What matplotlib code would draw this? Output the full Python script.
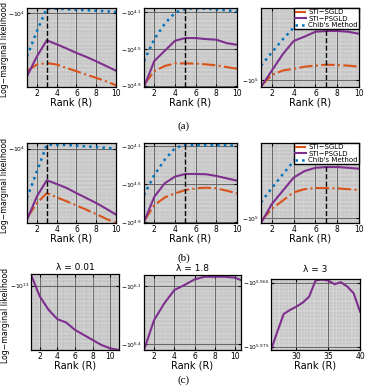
import matplotlib.pyplot as plt
import numpy as np
from matplotlib.ticker import FixedLocator, MultipleLocator

# all curves are stored as log10(-log marginal likelihood)
rank = [1, 2, 3, 4, 5, 6, 7, 8, 9, 10]

# (a)
a1_sgld = [4.236, 4.209, 4.203, 4.209, 4.223, 4.236, 4.250, 4.263, 4.277, 4.293]
a1_psgld = [4.257, 4.176, 4.111, 4.127, 4.144, 4.162, 4.178, 4.196, 4.215, 4.234]
a1_chib = [4.176, 4.074, 3.982, 3.983, 3.985, 3.987, 3.989, 3.991, 3.993, 3.996]
a2_sgld = [4.889, 4.742, 4.687, 4.658, 4.658, 4.661, 4.669, 4.680, 4.698, 4.717]
a2_psgld = [4.915, 4.632, 4.522, 4.412, 4.383, 4.383, 4.394, 4.401, 4.438, 4.456]
a2_chib = [4.632, 4.394, 4.228, 4.107, 4.063, 4.063, 4.063, 4.071, 4.082, 4.093]
a3_sgld = [5.031, 4.969, 4.945, 4.936, 4.924, 4.918, 4.913, 4.915, 4.918, 4.924]
a3_psgld = [5.036, 4.945, 4.855, 4.782, 4.758, 4.731, 4.727, 4.727, 4.731, 4.742]
a3_chib = [4.918, 4.845, 4.773, 4.709, 4.655, 4.609, 4.59, 4.585, 4.585, 4.59]

# (b)
b1_sgld = [4.281, 4.220, 4.180, 4.197, 4.213, 4.230, 4.247, 4.265, 4.284, 4.301]
b1_psgld = [4.288, 4.193, 4.128, 4.143, 4.159, 4.180, 4.200, 4.220, 4.243, 4.267]
b1_chib = [4.200, 4.092, 3.984, 3.984, 3.985, 3.988, 3.991, 3.993, 3.997, 4.000]
b2_sgld = [4.889, 4.722, 4.641, 4.598, 4.562, 4.544, 4.537, 4.544, 4.569, 4.598]
b2_psgld = [4.900, 4.633, 4.491, 4.420, 4.392, 4.392, 4.395, 4.413, 4.438, 4.463]
b2_chib = [4.616, 4.402, 4.242, 4.118, 4.082, 4.089, 4.089, 4.089, 4.089, 4.093]
b3_sgld = [5.018, 4.951, 4.905, 4.860, 4.842, 4.836, 4.836, 4.838, 4.842, 4.847]
b3_psgld = [5.029, 4.924, 4.851, 4.778, 4.742, 4.724, 4.720, 4.720, 4.724, 4.729]
b3_chib = [4.915, 4.836, 4.760, 4.687, 4.624, 4.587, 4.57, 4.565, 4.565, 4.57]

# (c)
c_rank12 = [1, 2, 3, 4, 5, 6, 7, 8, 9, 10, 11]
c1_psgld = [12.934, 13.064, 13.144, 13.200, 13.220, 13.264, 13.294, 13.324, 13.354, 13.374, 13.384]
c2_psgld = [6.431, 6.276, 6.190, 6.121, 6.095, 6.066, 6.052, 6.052, 6.052, 6.057, 6.078]
c_rank3 = [26, 27, 28, 29, 30, 31, 32, 33, 34, 35, 36, 37, 38, 39, 40]
c3_psgld = [5.97547, 5.97289, 5.97041, 5.96984, 5.96938, 5.96881, 5.96797, 5.96572,
            5.96558, 5.96572, 5.96623, 5.96595, 5.96656, 5.96750, 5.97008]

labels = ['STI\u2212SGLD', 'STI\u2212PSGLD', "Chib's Method"]
c_sgld = '#D95319'
c_psgld = '#7E2F8E'
c_chib = '#0072BD'


def fwd(y):
    y = np.asarray(y, float)
    return -np.log10(np.clip(-y, 1e-300, None))


def inv(u):
    return -10.0 ** (-np.asarray(u, float))


def neg(e):
    return -10.0 ** np.asarray(e)


def px(l, r, t, b):
    return [l / 367, 1 - b / 387, (r - l) / 367, (b - t) / 387]


def setup(ax, xlim, xticks, xminor, etop, ebot, yt):
    ax.set_yscale('function', functions=(fwd, inv))
    ax.set_xlim(*xlim)
    ax.set_ylim(neg(ebot), neg(etop))
    ax.set_facecolor('#d6d6d6')
    ax.set_xticks(xticks)
    ax.xaxis.set_minor_locator(MultipleLocator(xminor))
    ax.set_yticks([neg(e) for e in yt])
    ax.set_yticklabels(['$-10^{%s}$' % e for e in yt], fontsize=4.3)
    ax.yaxis.set_minor_locator(FixedLocator(neg(np.linspace(etop, ebot, 22))))
    ax.grid(which='minor', color='#8c8c8c', lw=0.35, ls=':')
    ax.grid(which='major', color='#555555', lw=0.6, ls='-')
    ax.set_axisbelow(True)
    ax.tick_params(which='both', direction='in', pad=1.2,
                   top=True, right=True, length=2)
    ax.tick_params(axis='x', labelsize=5.5)
    ax.tick_params(which='minor', length=0)
    for s in ax.spines.values():
        s.set_linewidth(0.9)
    ax.set_xlabel('Rank (R)', fontsize=7, labelpad=0)


def three(ax, sg, ps, ch):
    ax.plot(rank, neg(sg), '-.', color=c_sgld, lw=1.5, label=labels[0])
    ax.plot(rank, neg(ps), '-', color=c_psgld, lw=1.5, label=labels[1])
    ax.plot(rank, neg(ch), ':', color=c_chib, lw=1.8, label=labels[2])


fig = plt.figure(figsize=(3.67, 3.87), dpi=100)

cols = [(27, 116), (144, 237), (261, 359)]
rows = [(8, 87), (143, 223)]
sets = [
    [(a1_sgld, a1_psgld, a1_chib, 3.98, 4.30, [4], 3),
     (a2_sgld, a2_psgld, a2_chib, 4.056, 4.915, [4.1, 4.5, 4.9], 5),
     (a3_sgld, a3_psgld, a3_chib, 4.60, 5.036, [5], 7)],
    [(b1_sgld, b1_psgld, b1_chib, 3.977, 4.301, [4], 3),
     (b2_sgld, b2_psgld, b2_chib, 4.064, 4.911, [4.1, 4.5, 4.9], 5),
     (b3_sgld, b3_psgld, b3_chib, 4.587, 5.029, [5], 7)],
]

for (t, b), row in zip(rows, sets):
    for j, ((l, r), (sg, ps, ch, et, eb, yt, best)) in enumerate(zip(cols, row)):
        ax = fig.add_axes(px(l, r, t, b))
        setup(ax, (1, 10), [2, 4, 6, 8, 10], 0.2, et, eb, yt)
        three(ax, sg, ps, ch)
        ax.axvline(best, color='k', ls='--', lw=1)
        if j == 0:
            ax.set_ylabel('Log\u2212marginal likelihood', fontsize=5.6)
            ax.yaxis.set_label_coords(-0.2, 0.47)
        if j == 2:
            ax.legend(loc='upper right', fontsize=5, borderaxespad=0,
                      fancybox=False, edgecolor='k', framealpha=1,
                      borderpad=0.2, labelspacing=0.05, handlelength=1.6,
                      handletextpad=0.3)

# (c)
ax = fig.add_axes(px(31, 119, 274, 350))
setup(ax, (1, 11), [2, 4, 6, 8, 10], 0.2, 12.93, 13.384, [13])
ax.plot(c_rank12, neg(c1_psgld), '-', color=c_psgld, lw=1.5)
ax.set_title('\u03bb = 0.01', fontsize=6.5, pad=3)
ax.set_ylabel('Log\u2212marginal likelihood', fontsize=5.6)
ax.yaxis.set_label_coords(-0.24, 0.45)

ax = fig.add_axes(px(144, 241, 275, 350))
setup(ax, (1, 10.6), [2, 4, 6, 8, 10], 0.2, 6.043, 6.431, [6.1, 6.4])
ax.plot(c_rank12, neg(c2_psgld), '-', color=c_psgld, lw=1.5)
ax.set_title('\u03bb = 1.8', fontsize=6.5, pad=3)

ax = fig.add_axes(px(271, 360, 279, 350))
setup(ax, (26, 40), [30, 35, 40], 0.5, 5.9655, 5.97547, [5.966, 5.975])
ax.plot(c_rank3, neg(c3_psgld), '-', color=c_psgld, lw=1.5)
ax.set_title('\u03bb = 3', fontsize=6.5, pad=5)

for y, s in [(126, '(a)'), (258, '(b)'), (380, '(c)')]:
    fig.text(0.5, 1 - y / 387, s, ha='center', va='center',
             family='Liberation Serif', fontsize=8)

fig.savefig('out.png', dpi=100)
